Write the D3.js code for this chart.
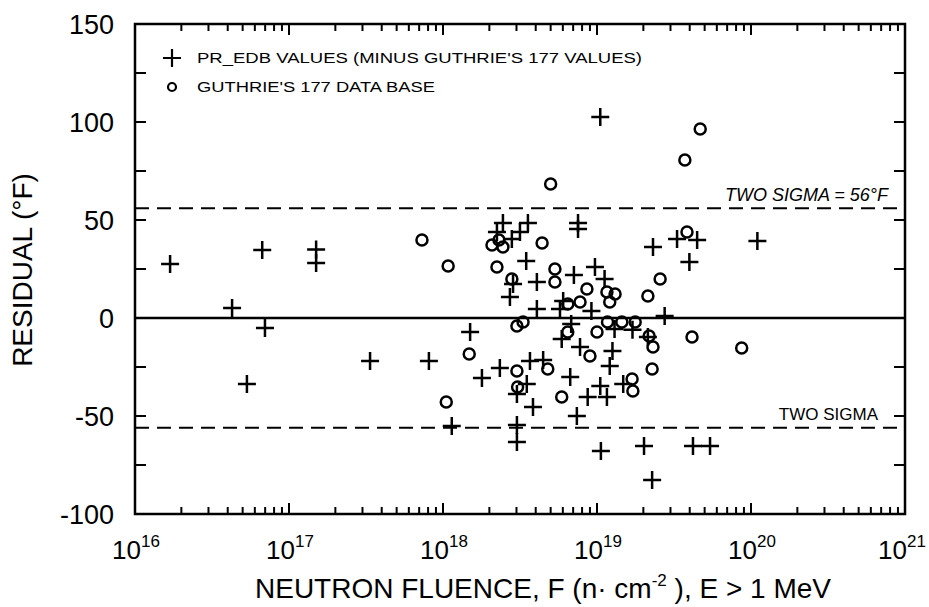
<!DOCTYPE html>
<html>
<head>
<meta charset="utf-8">
<script src="https://cdn.jsdelivr.net/npm/d3@7"></script>
<style>
  body { margin: 0; background: #fff; }
  text { font-family: "Liberation Sans", Arial, Helvetica, sans-serif; fill: #000; }
</style>
</head>
<body>
<div class="canvas"></div>
<script>
// data
const plusFluence = [1.69e16, 4.27e16, 6.7e16, 6.98e16, 5.33e16, 1.5e17, 1.5e17, 3.36e17, 8.1e17, 1.14e18,
  1.5e18, 1.79e18, 2.34e18, 3.02e18, 3.02e18, 3.02e18, 3.5e18, 3.67e18, 4.47e18, 3.84e18,
  7.4e18, 6.7e18, 8.7e18, 1.05e19, 1.16e19, 1.26e19, 1.21e19, 1.48e19, 7.76e18, 1.06e19,
  2.02e19, 4.2e19, 5.42e19, 2.28e19, 2.14e19, 2.75e19, 1.05e19, 3.31e19, 4.47e19, 2.31e19,
  3.98e19, 1.1e20, 2.45e18, 3.56e18, 3.16e18, 2.24e18, 2.8e18, 7.53e18, 7.53e18, 3.47e18,
  2.85e18, 2.72e18, 4.07e18, 4.07e18, 7.08e18, 9.7e18, 1.12e19, 6.03e18, 5.75e18, 6.8e18,
  1.3e19, 9.2e18, 5.9e18, 1.7e19];
const plusResidual = [27.6, 5.1, 34.7, -5.1, -33.7, 35, 28, -21.9, -21.9, -55.1,
  -7.1, -30.6, -25.5, -54.6, -63.3, -38.8, -33.7, -21.9, -21.4, -45.4,
  -50, -30.1, -40.3, -34.7, -40.3, -16.8, -24.5, -33.7, -14.8, -67.9,
  -65.3, -65.3, -65.3, -82.7, -9.7, 1, 102.6, 40.3, 39.8, 36.2,
  28.6, 39.3, 48.5, 48.5, 43.9, 43.9, 40.3, 48.5, 45.4, 29.1,
  17.3, 10.7, 18.4, 4.6, 21.9, 26, 19.9, 8.7, 4.6, -3,
  -5.6, 3.6, -10.7, -6];

const circleFluence = [7.3e17, 1.08e18, 1.48e18, 1.05e18, 5.0e18, 2.24e18, 4.4e18, 2.08e18, 2.45e18, 2.31e18,
  2.8e18, 5.33e18, 5.33e18, 8.6e18, 1.16e19, 1.31e19, 1.21e19, 6.46e18, 7.76e18, 2.14e19,
  2.57e19, 3.84e19, 4.68e19, 3.72e19, 3.02e18, 3.31e18, 1.17e19, 1.45e19, 1.77e19, 4.14e19,
  8.7e19, 3.02e18, 3.05e18, 4.79e18, 5.9e18, 9.0e18, 6.46e18, 1.0e19, 2.31e19, 2.28e19,
  1.71e19, 1.69e19, 2.18e19];
const circleResidual = [39.8, 26.5, -18.4, -42.9, 68.4, 26, 38.3, 37.2, 36.2, 39.8,
  19.9, 25, 18.4, 14.8, 13.3, 12.2, 8.2, 7.1, 8.2, 11.2,
  19.9, 43.9, 96.4, 80.6, -4.1, -2, -2, -2, -2, -9.7,
  -15.3, -27, -35.2, -26, -40.3, -19.4, -7.1, -7.1, -14.8, -26,
  -37.2, -31.1, -9.2];

const yTicks = [-100, -50, 0, 50, 100, 150];
const yMinor = [-75, -25, 25, 75, 125];
const xDecades = [16, 17, 18, 19, 20, 21];
const twoSigma = 56;

const legendLabels = ["PR_EDB VALUES (MINUS GUTHRIE'S 177 VALUES)", "GUTHRIE'S 177 DATA BASE"];

// layout
const W = 929, H = 607;
const box = { left: 135, right: 905, top: 24, bottom: 514 };

const svg = d3.select('.canvas')
  .append('svg')
  .attr('width', W)
  .attr('height', H);

const x = d3.scaleLog().domain([1e16, 1e21]).range([box.left, box.right]);
const y = d3.scaleLinear().domain([-100, 150]).range([box.bottom, box.top]);

// frame
svg.append('rect')
  .attr('x', box.left).attr('y', box.top)
  .attr('width', box.right - box.left).attr('height', box.bottom - box.top)
  .attr('fill', 'none').attr('stroke', '#000').attr('stroke-width', 2.5);

// log ticks on bottom and top, pointing inward
const logTicks = [];
xDecades.slice(0, -1).forEach(e => {
  for (let m = 1; m < 10; m++) logTicks.push({ v: m * Math.pow(10, e), major: m === 1 });
});
logTicks.push({ v: 1e21, major: true });

const ticksG = svg.append('g').attr('stroke', '#000').attr('stroke-width', 2);
logTicks.forEach(t => {
  const len = t.major ? 11 : 7;
  ticksG.append('line').attr('x1', x(t.v)).attr('x2', x(t.v))
    .attr('y1', box.bottom).attr('y2', box.bottom - len);
  ticksG.append('line').attr('x1', x(t.v)).attr('x2', x(t.v))
    .attr('y1', box.top).attr('y2', box.top + len);
});

// y ticks both sides
yTicks.concat(yMinor).forEach(v => {
  ticksG.append('line').attr('x1', box.left).attr('x2', box.left + 11)
    .attr('y1', y(v)).attr('y2', y(v));
  ticksG.append('line').attr('x1', box.right).attr('x2', box.right - 11)
    .attr('y1', y(v)).attr('y2', y(v));
});

// tick labels
svg.append('g').selectAll('text')
  .data(yTicks)
  .enter().append('text')
    .attr('x', 114)
    .attr('y', d => y(d) + 10)
    .attr('text-anchor', 'end')
    .attr('font-size', 27)
    .text(d => d);

const xLab = svg.append('g').selectAll('text')
  .data(xDecades)
  .enter().append('text')
    .attr('x', (d, i) => x(Math.pow(10, d)) + (i === xDecades.length - 1 ? -3 : 1))
    .attr('y', 559)
    .attr('text-anchor', 'middle')
    .attr('font-size', 26);
xLab.append('tspan').text('10');
xLab.append('tspan').attr('font-size', 17).attr('dy', -12).text(d => d);

// axis titles
const xt = svg.append('text')
  .attr('x', 543).attr('y', 598)
  .attr('text-anchor', 'middle')
  .attr('font-size', 28);
xt.append('tspan').text('NEUTRON FLUENCE, F (n\u00b7 cm');
xt.append('tspan').attr('font-size', 17).attr('dy', -12).text('-2');
xt.append('tspan').attr('dy', 12).text(' ), E > 1 MeV');

svg.append('text')
  .attr('transform', 'translate(32, 270) rotate(-90)')
  .attr('text-anchor', 'middle')
  .attr('font-size', 28)
  .text('RESIDUAL (\u00b0F)');

// reference lines
svg.append('line')
  .attr('x1', box.left).attr('x2', box.right)
  .attr('y1', y(0)).attr('y2', y(0))
  .attr('stroke', '#000').attr('stroke-width', 2.5);

[twoSigma, -twoSigma].forEach(v => {
  svg.append('line')
    .attr('x1', box.left).attr('x2', box.right)
    .attr('y1', y(v)).attr('y2', y(v))
    .attr('stroke', '#000').attr('stroke-width', 2)
    .attr('stroke-dasharray', '14,8');
});

svg.append('text')
  .attr('x', 888).attr('y', y(twoSigma) - 7)
  .attr('text-anchor', 'end')
  .attr('font-size', 18).attr('font-style', 'italic')
  .text('TWO SIGMA = 56\u00b0F');

svg.append('text')
  .attr('x', 878).attr('y', y(-twoSigma) - 8)
  .attr('text-anchor', 'end')
  .attr('font-size', 17)
  .text('TWO SIGMA');

// markers
const plusPath = 'M-9,0H9M0,-9V9';

svg.append('g').selectAll('path')
  .data(d3.zip(plusFluence, plusResidual))
  .enter().append('path')
    .attr('d', plusPath)
    .attr('transform', d => `translate(${x(d[0])}, ${y(d[1])})`)
    .attr('stroke', '#000').attr('stroke-width', 2.5).attr('fill', 'none');

svg.append('g').selectAll('circle')
  .data(d3.zip(circleFluence, circleResidual))
  .enter().append('circle')
    .attr('cx', d => x(d[0]))
    .attr('cy', d => y(d[1]))
    .attr('r', 5.5)
    .attr('stroke', '#000').attr('stroke-width', 2.5).attr('fill', 'none');

// legend
const legend = svg.append('g');
legend.append('path')
  .attr('d', plusPath)
  .attr('transform', 'translate(172, 58)')
  .attr('stroke', '#000').attr('stroke-width', 2.2);
legend.append('circle')
  .attr('cx', 172).attr('cy', 87).attr('r', 4)
  .attr('stroke', '#000').attr('stroke-width', 2.2).attr('fill', 'none');
legend.append('text')
  .attr('x', 197).attr('y', 63)
  .attr('font-size', 14)
  .attr('textLength', 445).attr('lengthAdjust', 'spacingAndGlyphs')
  .text(legendLabels[0]);
legend.append('text')
  .attr('x', 197).attr('y', 92)
  .attr('font-size', 14)
  .attr('textLength', 238).attr('lengthAdjust', 'spacingAndGlyphs')
  .text(legendLabels[1]);
</script>
</body>
</html>
